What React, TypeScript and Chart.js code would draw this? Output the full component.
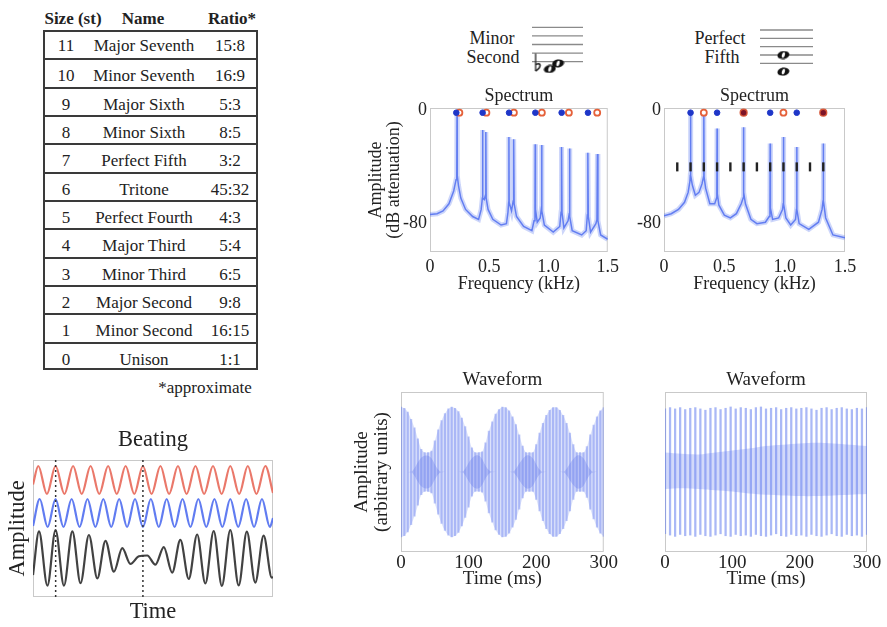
import React, { useEffect, useRef } from 'react';
import { Chart, registerables } from 'chart.js';
Chart.register(...registerables);

const SERIF = '"Liberation Serif", "Times New Roman", serif';
const INK = '#222';

// ---------------- Table data ----------------
const intervalSizes = [11, 10, 9, 8, 7, 6, 5, 4, 3, 2, 1, 0];
const intervalNames = ['Major Seventh', 'Minor Seventh', 'Major Sixth', 'Minor Sixth', 'Perfect Fifth', 'Tritone', 'Perfect Fourth', 'Major Third', 'Minor Third', 'Major Second', 'Minor Second', 'Unison'];
const intervalRatios = ['15:8', '16:9', '5:3', '8:5', '3:2', '45:32', '4:3', '5:4', '6:5', '9:8', '16:15', '1:1'];

// ---------------- Notation data (staff steps, bottom line = 0) ----------------
const staffLineSteps = [0, 2, 4, 6, 8];
const minorSecondNotes = [{ x: 3.5, step: -1.7 }, { x: 5.1, step: -0.4 }];
const minorSecondFlats = [{ x: 1.2, step: -0.2 }];
const perfectFifthNotes = [{ x: 4.4, step: 2 }, { x: 4.4, step: -2 }];

// ---------------- Spectrum data (kHz, dB) ----------------
const spec1Points: [number, number][] = [
  [0, -73.5], [0.06, -73], [0.11, -71], [0.16, -66], [0.2, -57], [0.22, -49], [0.226, -46], [0.228, 0], [0.23, -46], [0.24, -53], [0.26, -62], [0.3, -70], [0.36, -75], [0.41, -77],
  [0.432, -70], [0.442, -62], [0.444, -14], [0.446, -62], [0.458, -63], [0.468, -60], [0.471, -15.5], [0.474, -62], [0.49, -70], [0.53, -77], [0.6, -81], [0.645, -80],
  [0.658, -72], [0.664, -65], [0.666, -19], [0.668, -65], [0.688, -71], [0.702, -64], [0.706, -20.5], [0.71, -66], [0.73, -75], [0.79, -82], [0.86, -85],
  [0.878, -78], [0.886, -69], [0.888, -24], [0.89, -70], [0.905, -79], [0.93, -76], [0.939, -70], [0.942, -24.5], [0.945, -71], [0.965, -81], [1.04, -86],
  [1.095, -82], [1.106, -72], [1.11, -26], [1.114, -72], [1.13, -83], [1.165, -78], [1.173, -74], [1.177, -27], [1.181, -75], [1.2, -85], [1.28, -88],
  [1.318, -85], [1.328, -74], [1.332, -30], [1.336, -75], [1.355, -86], [1.4, -80], [1.409, -77], [1.413, -31], [1.417, -78], [1.44, -88], [1.5, -91],
];
const spec1LowNote = [0.222, 0.444, 0.667, 0.889, 1.111, 1.333];
const spec1HighNote = [0.248, 0.476, 0.708, 0.944, 1.172, 1.411];

const spec2Points: [number, number][] = [
  [0, -74.5], [0.06, -73], [0.12, -70], [0.17, -65], [0.2, -58], [0.215, -50], [0.218, -46], [0.22, -2], [0.222, -46], [0.235, -53], [0.26, -60], [0.29, -58], [0.315, -52],
  [0.328, -47], [0.33, -1], [0.332, -47], [0.345, -55], [0.38, -66], [0.42, -66], [0.436, -62], [0.438, -59], [0.44, -13], [0.442, -59], [0.455, -67], [0.5, -74],
  [0.55, -76], [0.6, -73], [0.64, -66], [0.656, -62], [0.658, -58], [0.66, -12], [0.662, -58], [0.675, -66], [0.72, -77], [0.77, -80], [0.84, -79], [0.872, -75],
  [0.878, -69], [0.88, -23.5], [0.882, -69], [0.9, -77], [0.95, -76], [0.982, -70], [0.988, -66], [0.99, -19], [0.992, -66], [1.01, -76], [1.05, -81], [1.09, -77],
  [1.098, -70], [1.1, -26], [1.102, -70], [1.12, -80], [1.2, -84], [1.28, -79], [1.31, -70], [1.318, -64], [1.32, -23.5], [1.322, -64], [1.34, -76], [1.4, -88], [1.5, -90],
];
const spec2LowOnly = [0.22, 0.44, 0.88, 1.1];
const spec2HighOnly = [0.33, 0.99];
const spec2Shared = [0.66, 1.32];
const spec2Subharmonics = [0.11, 0.22, 0.33, 0.44, 0.55, 0.66, 0.77, 0.88, 0.99, 1.1, 1.21, 1.32];
const markerDb = -1.8;
const subharmonicDb = -40;

// ---------------- Waveform data ----------------
const wf1StepMs = 5;
const wf1Env = [1.0, 0.98, 0.92, 0.81, 0.68, 0.51, 0.35, 0.3, 0.3, 0.32, 0.48, 0.65, 0.79, 0.9, 0.97, 1.0, 0.98, 0.93, 0.83, 0.7, 0.54, 0.37, 0.3, 0.3, 0.31, 0.45, 0.63, 0.77, 0.89, 0.96, 1.0, 0.99, 0.94, 0.85, 0.73, 0.57, 0.4, 0.3, 0.3, 0.3, 0.42, 0.6, 0.75, 0.87, 0.95, 0.99, 0.99, 0.95, 0.87, 0.75, 0.6, 0.42, 0.3, 0.3, 0.3, 0.39, 0.57, 0.72, 0.85, 0.94, 0.99];
const wf1Core = [0, 0, 0, 0, 0.06, 0.15, 0.22, 0.25, 0.25, 0.21, 0.12, 0.04, 0, 0, 0, 0, 0, 0, 0, 0.05, 0.14, 0.21, 0.25, 0.25, 0.2, 0.1, 0.03, 0, 0, 0, 0, 0, 0, 0, 0.05, 0.13, 0.2, 0.25, 0.25, 0.21, 0.12, 0.04, 0, 0, 0, 0, 0, 0, 0, 0.05, 0.13, 0.2, 0.25, 0.25, 0.21, 0.12, 0.04, 0, 0, 0, 0];

const wf2StepMs = 7.5;
const wf2Peak = [0.97, 0.99, 0.97, 0.99, 0.96, 0.98, 0.99, 0.97, 0.95, 0.98, 0.99, 0.96, 0.98, 1.0, 0.97, 0.99, 0.98, 0.96, 0.99, 1.0, 0.97, 0.98, 0.99, 0.96, 0.98, 0.99, 0.97, 0.98, 0.99, 0.97, 0.95, 0.98, 0.99, 0.96, 0.98, 0.99, 0.97, 0.96, 0.98, 0.97, 0.99];
const wf2Trough = [-0.95, -0.97, -0.99, -0.96, -0.98, -0.97, -0.99, -0.96, -0.98, -0.99, -0.97, -0.95, -0.98, -0.99, -0.96, -0.98, -0.97, -0.99, -0.96, -0.98, -0.99, -0.97, -0.95, -0.98, -0.99, -0.96, -0.98, -0.97, -0.99, -0.96, -0.98, -0.99, -0.97, -0.95, -0.98, -0.99, -0.96, -0.98, -0.97, -0.99, -0.96];
const wf2BandStepMs = 25;
const wf2BandTop = [0.3, 0.28, 0.27, 0.3, 0.33, 0.36, 0.4, 0.42, 0.44, 0.45, 0.44, 0.42, 0.4];
const wf2BandBottom = [-0.26, -0.25, -0.26, -0.28, -0.3, -0.33, -0.35, -0.36, -0.37, -0.37, -0.36, -0.35, -0.34];

// ---------------- Beating data (time 0-100, stacked amplitude units) ----------------
const redWave: [number, number][] = [[0, 112.5], [2.2, 131], [5.8, 103], [9.4, 131], [13.1, 103], [16.7, 131], [20.3, 103], [24.0, 131], [27.6, 103], [31.3, 131], [34.9, 103], [38.6, 131], [42.2, 103], [45.8, 131], [49.4, 103], [53.1, 131], [56.7, 103], [60.4, 131], [64.0, 103], [67.7, 131], [71.3, 103], [75.0, 131], [78.6, 103], [82.2, 131], [85.9, 103], [89.5, 131], [93.1, 103], [96.8, 131], [100, 104]];
const blueWave: [number, number][] = [[0, 71], [2.8, 98], [6.1, 70], [9.4, 98], [12.7, 70], [16.1, 98], [19.4, 70], [22.7, 98], [26.0, 70], [29.3, 98], [32.6, 70], [35.9, 98], [39.2, 70], [42.5, 98], [45.8, 70], [49.1, 98], [52.4, 70], [55.7, 98], [59.0, 70], [62.3, 98], [65.6, 70], [68.9, 98], [72.2, 70], [75.6, 98], [78.9, 70], [82.2, 98], [85.5, 70], [88.8, 98], [92.1, 70], [95.4, 98], [98.7, 70], [100, 79]];
const sumWave: [number, number][] = [[0, 22], [2.5, 65.7], [6.0, 11.3], [9.4, 67], [12.9, 11.3], [16.4, 65.7], [19.8, 13.8], [23.3, 62], [26.8, 18.6], [30.2, 56.2], [33.7, 25.3], [37.2, 48.8], [40.6, 33.1], [44.1, 40.7], [47.6, 41.5], [51.0, 32.3], [54.5, 49.8], [58.0, 24.4], [61.4, 57.1], [64.9, 18], [68.4, 62.5], [71.8, 13.5], [75.3, 66], [78.7, 11.2], [82.2, 67], [85.7, 11.6], [89.1, 65.3], [92.6, 14.4], [96.1, 61.4], [99.5, 19.4], [100, 20]];
const beatMarkers = [9.44, 45.8];

// ---------------- helpers ----------------
const framePlugin = {
  id: 'frame',
  beforeDatasetsDraw(chart: any, _args: any, opts: any) {
    if (!opts || !opts.show) return;
    const { ctx, chartArea: a } = chart;
    ctx.save();
    ctx.strokeStyle = opts.color || '#c9c9c9';
    ctx.lineWidth = 1;
    ctx.strokeRect(a.left + 0.5, a.top + 0.5, a.right - a.left - 1, a.bottom - a.top - 1);
    ctx.restore();
  },
};
Chart.register(framePlugin as any);

const fnt = (size: number, lineHeight = 1, weight: any = 'normal') => ({ family: SERIF, size, lineHeight, weight });

function ChartBox({ left, top, width, height, make }: any) {
  const ref = useRef<HTMLCanvasElement>(null);
  useEffect(() => {
    const chart = new Chart(ref.current as HTMLCanvasElement, make());
    return () => chart.destroy();
  }, []);
  return (
    <div style={{ position: 'absolute', left, top, width, height }}>
      <canvas ref={ref} width={width} height={height} style={{ width, height, display: 'block' }} />
    </div>
  );
}

const baseOptions = (extra: any) => ({
  responsive: false,
  animation: false,
  devicePixelRatio: 1,
  events: [],
  ...extra,
});

function spectrumConfig(points: [number, number][], withTitle: boolean, yWidth: number, padRight: number, markers: any[]) {
  const pts = points.map(([x, y]) => ({ x, y }));
  return {
    type: 'scatter',
    data: {
      datasets: [
        ...markers,
        {
          data: pts,
          showLine: true,
          borderColor: 'rgba(80,110,240,0.85)',
          borderWidth: 1.5,
          pointRadius: 0,
          order: 9,
        },
        {
          data: pts,
          showLine: true,
          borderColor: 'rgba(90,120,240,0.3)',
          borderWidth: 5,
          pointRadius: 0,
          order: 10,
        },
      ],
    },
    options: baseOptions({
      layout: { padding: { left: 0, right: padRight, top: 0, bottom: 0 }, autoPadding: false },
      plugins: {
        legend: { display: false },
        tooltip: { enabled: false },
        frame: { show: true },
        title: { display: true, text: 'Spectrum', fullSize: false, color: INK, font: fnt(18), padding: { top: 7, bottom: 3 } },
      },
      scales: {
        x: {
          type: 'linear', min: 0, max: 1.5,
          grid: { display: false, drawTicks: false }, border: { display: false },
          ticks: { stepSize: 0.5, color: INK, font: fnt(18), padding: 6, maxRotation: 0 },
          title: { display: true, text: 'Frequency (kHz)', color: INK, font: fnt(18), padding: { top: 0, bottom: 2 } },
          afterFit: (s: any) => { s.height = 43; },
        },
        y: {
          type: 'linear', min: -100, max: 1.5,
          grid: { display: false, drawTicks: false }, border: { display: false },
          ticks: { color: INK, font: fnt(18), padding: 3 },
          afterBuildTicks: (s: any) => { s.ticks = [{ value: -80 }, { value: 0 }]; },
          title: withTitle
            ? { display: true, text: ['Amplitude', '(dB attenuation)'], color: INK, font: fnt(18), padding: { top: 27, bottom: 0 } }
            : { display: false },
          afterFit: (s: any) => { s.width = yWidth; },
        },
      },
    }),
  };
}

const dots = (xs: number[], y: number, fill: string, stroke: string, r = 3, bw = 1.5) => ({
  data: xs.map((x) => ({ x, y })),
  pointRadius: r,
  pointBackgroundColor: fill,
  pointBorderColor: stroke,
  pointBorderWidth: bw,
  clip: false,
  order: 1,
});

function waveformConfig(datasets: any[], withTitle: boolean, yWidth: number, padRight: number) {
  return {
    type: 'bar',
    data: { datasets },
    options: baseOptions({
      layout: { padding: { left: 0, right: padRight, top: 0, bottom: 0 }, autoPadding: false },
      plugins: {
        legend: { display: false },
        tooltip: { enabled: false },
        frame: { show: true },
        title: { display: true, text: 'Waveform', fullSize: false, color: INK, font: fnt(19), padding: { top: 5.5, bottom: 2.5 } },
      },
      scales: {
        x: {
          type: 'linear', min: 0, max: 300, offset: false,
          grid: { display: false, drawTicks: false }, border: { display: false },
          ticks: { stepSize: 100, color: INK, font: fnt(19), padding: 2, maxRotation: 0 },
          title: { display: true, text: 'Time (ms)', color: INK, font: fnt(19), padding: { top: 0, bottom: 11 } },
          afterFit: (s: any) => { s.height = 48; },
        },
        y: {
          type: 'linear', min: -1.23, max: 1.23,
          grid: { display: false, drawTicks: false }, border: { display: false },
          ticks: { display: false },
          title: withTitle
            ? { display: true, text: ['Amplitude', '(arbitrary units)'], color: INK, font: fnt(19, 1.08), padding: { top: 11.4, bottom: 0 } }
            : { display: false },
          afterFit: (s: any) => { s.width = yWidth; },
        },
      },
    }),
  };
}

const bandLine = (pts: { x: number; y: number }[], fill: any, color: string, order: number, tension = 0.3) => ({
  type: 'line',
  data: pts,
  borderWidth: 0,
  pointRadius: 0,
  tension,
  fill,
  backgroundColor: color,
  order,
});

function wf1Datasets() {
  const t = (i: number) => i * wf1StepMs;
  return [
    {
      type: 'bar',
      data: wf1Env.map((e, i) => ({ x: t(i), y: [-e, e] })),
      backgroundColor: 'rgba(100,125,238,0.42)',
      barThickness: 1.5,
      order: 2,
    },
    bandLine(wf1Core.map((c, i) => ({ x: t(i), y: c })), '+1', 'rgba(90,110,230,0.3)', 3, 0.4),
    bandLine(wf1Core.map((c, i) => ({ x: t(i), y: -c })), false, 'rgba(0,0,0,0)', 3, 0.4),
    bandLine(wf1Env.map((e, i) => ({ x: t(i), y: e })), '+1', 'rgba(140,160,242,0.3)', 4),
    bandLine(wf1Env.map((e, i) => ({ x: t(i), y: -e })), false, 'rgba(0,0,0,0)', 4),
  ];
}

function wf2Datasets() {
  const t = (i: number) => i * wf2StepMs;
  const tb = (i: number) => i * wf2BandStepMs;
  return [
    {
      type: 'bar',
      data: wf2Peak.map((p, i) => ({ x: t(i), y: [wf2Trough[i], p] })),
      backgroundColor: 'rgba(100,125,238,0.55)',
      barThickness: 1.6,
      order: 2,
    },
    bandLine(wf2BandTop.map((v, i) => ({ x: tb(i), y: v })), '+1', 'rgba(105,130,238,0.3)', 3),
    bandLine(wf2BandBottom.map((v, i) => ({ x: tb(i), y: v })), false, 'rgba(0,0,0,0)', 3),
  ];
}

function beatingConfig() {
  const wave = (pts: [number, number][], color: string) => ({
    data: pts.map(([x, y]) => ({ x, y })),
    showLine: true,
    borderColor: color,
    borderWidth: 2.2,
    pointRadius: 0,
    cubicInterpolationMode: 'monotone',
    order: 2,
  });
  return {
    type: 'scatter',
    data: {
      datasets: [
        wave(redWave, 'rgba(232,105,90,0.9)'),
        wave(blueWave, 'rgba(80,110,240,0.9)'),
        wave(sumWave, 'rgba(45,45,45,0.9)'),
        ...beatMarkers.map((m) => ({
          data: [{ x: m, y: 0 }, { x: m, y: 137 }],
          showLine: true,
          borderColor: '#333',
          borderWidth: 1.5,
          borderDash: [2, 3],
          pointRadius: 0,
          order: 1,
        })),
      ],
    },
    options: baseOptions({
      layout: { padding: { left: 0, right: 12, top: 0, bottom: 0 }, autoPadding: false },
      plugins: {
        legend: { display: false },
        tooltip: { enabled: false },
        frame: { show: true },
        title: { display: true, text: 'Beating', fullSize: false, color: INK, font: fnt(22.5), padding: { top: 8.75, bottom: 8.75 } },
      },
      scales: {
        x: {
          type: 'linear', min: 0, max: 100,
          grid: { display: false, drawTicks: false }, border: { display: false },
          ticks: { display: false },
          title: { display: true, text: 'Time', color: INK, font: fnt(22.5), padding: { top: 0, bottom: 3.75 } },
          afterFit: (s: any) => { s.height = 30; },
        },
        y: {
          type: 'linear', min: 0, max: 137,
          grid: { display: false, drawTicks: false }, border: { display: false },
          ticks: { display: false },
          title: { display: true, text: 'Amplitude', color: INK, font: fnt(22.5), padding: { top: 6.75, bottom: 0 } },
          afterFit: (s: any) => { s.width = 33; },
        },
      },
    }),
  };
}

function makeNoteImage() {
  const c = document.createElement('canvas');
  c.width = 13;
  c.height = 9;
  const g = c.getContext('2d') as CanvasRenderingContext2D;
  g.fillStyle = '#111';
  g.beginPath();
  g.ellipse(6.5, 4.5, 6, 4, -0.2, 0, Math.PI * 2);
  g.fill();
  g.fillStyle = '#fff';
  g.beginPath();
  g.ellipse(6.5, 4.5, 1.5, 2.8, 0.35, 0, Math.PI * 2);
  g.fill();
  return c;
}

function makeFlatImage() {
  const c = document.createElement('canvas');
  c.width = 9;
  c.height = 19;
  const g = c.getContext('2d') as CanvasRenderingContext2D;
  g.strokeStyle = '#222';
  g.lineWidth = 1.3;
  g.beginPath();
  g.moveTo(2, 0.5);
  g.lineTo(2, 18);
  g.stroke();
  g.lineWidth = 1.6;
  g.beginPath();
  g.moveTo(2, 18);
  g.bezierCurveTo(8, 14, 8, 9, 2, 11.5);
  g.stroke();
  return c;
}

function staffConfig(notes: { x: number; step: number }[], flats: { x: number; step: number }[], yMin: number, yMax: number) {
  const note = makeNoteImage();
  const flat = makeFlatImage();
  return {
    type: 'scatter',
    data: {
      datasets: [
        ...staffLineSteps.map((s) => ({
          data: [{ x: 0, y: s }, { x: 10, y: s }],
          showLine: true,
          borderColor: '#8a8a8a',
          borderWidth: 1.3,
          pointRadius: 0,
          clip: false,
          order: 3,
        })),
        {
          data: notes.map((n) => ({ x: n.x, y: n.step })),
          pointStyle: note,
          pointRadius: 6,
          clip: false,
          order: 1,
        },
        {
          data: flats.map((n) => ({ x: n.x, y: n.step })),
          pointStyle: flat,
          pointRadius: 6,
          clip: false,
          order: 1,
        },
      ],
    },
    options: baseOptions({
      layout: { padding: 0, autoPadding: false },
      plugins: { legend: { display: false }, tooltip: { enabled: false }, title: { display: false } },
      scales: {
        x: { type: 'linear', min: 0, max: 10, display: false },
        y: { type: 'linear', min: yMin, max: yMax, display: false },
      },
    }),
  };
}

const textStyle = (left: number, top: number, size: number, extra: any = {}) => ({
  position: 'absolute' as const,
  left,
  top,
  fontFamily: SERIF,
  fontSize: size,
  lineHeight: `${size}px`,
  color: INK,
  whiteSpace: 'nowrap' as const,
  transform: 'translate(-50%, -50%)',
  ...extra,
});

function IntervalTable() {
  const rowH = 340 / 12;
  return (
    <>
      <div style={textStyle(73, 18, 17, { fontWeight: 'bold' })}>Size (st)</div>
      <div style={textStyle(143, 18, 17, { fontWeight: 'bold' })}>Name</div>
      <div style={textStyle(232, 18, 17, { fontWeight: 'bold' })}>Ratio*</div>
      <div style={{ position: 'absolute', left: 43, top: 30, width: 215, height: 340, boxSizing: 'border-box', border: '2px solid #3a3a3a' }}>
        {intervalSizes.map((s, i) => (
          <div key={s} style={{ position: 'absolute', left: 0, right: 0, top: i * rowH - 2, height: rowH, boxSizing: 'border-box', borderTop: i === 0 ? 'none' : '2px solid #3a3a3a' }}>
            <div style={textStyle(21, rowH / 2 + 1, 17)}>{s}</div>
            <div style={textStyle(99, rowH / 2 + 1, 17)}>{intervalNames[i]}</div>
            <div style={textStyle(185, rowH / 2 + 1, 17)}>{intervalRatios[i]}</div>
          </div>
        ))}
      </div>
      <div style={textStyle(205, 387, 17)}>*approximate</div>
    </>
  );
}

export default function App() {
  return (
    <div style={{ position: 'fixed', left: 0, top: 0, width: 887, height: 627, background: '#fff', overflow: 'hidden' }}>
      <IntervalTable />

      <div style={textStyle(492, 38, 18)}>Minor</div>
      <div style={textStyle(493, 57, 18)}>Second</div>
      <div style={textStyle(720, 38, 18)}>Perfect</div>
      <div style={textStyle(722, 57, 18)}>Fifth</div>

      <ChartBox left={532} top={20} width={51} height={60} make={() => staffConfig(minorSecondNotes, minorSecondFlats, -4.26, 9.7)} />
      <ChartBox left={760} top={20} width={53} height={65} make={() => staffConfig(perfectFifthNotes, [], -5.2, 10.4)} />

      <ChartBox
        left={340} top={80} width={285} height={215}
        make={() => spectrumConfig(spec1Points, true, 90, 15, [
          dots(spec1LowNote, markerDb, '#1e36c8', '#1e36c8', 2.8, 1),
          dots(spec1HighNote, markerDb, '#ffffff', '#e5613a', 3, 1.8),
        ])}
      />
      <ChartBox
        left={620} top={80} width={260} height={215}
        make={() => spectrumConfig(spec2Points, false, 44, 35, [
          dots(spec2LowOnly, markerDb, '#1e36c8', '#1e36c8', 2.8, 1),
          dots(spec2HighOnly, markerDb, '#ffffff', '#e5613a', 3, 1.8),
          dots(spec2Shared, markerDb, '#7d1428', '#d8583a', 3.4, 1.4),
          {
            data: spec2Subharmonics.map((x) => ({ x, y: subharmonicDb })),
            pointStyle: 'line',
            rotation: 90,
            pointRadius: 4.5,
            pointBorderColor: '#222',
            pointBorderWidth: 2.4,
            order: 1,
          },
        ])}
      />

      <ChartBox left={340} top={365} width={280} height={235} make={() => waveformConfig(wf1Datasets(), true, 61, 16)} />
      <ChartBox left={630} top={365} width={257} height={235} make={() => waveformConfig(wf2Datasets(), false, 35, 20)} />

      <ChartBox left={0} top={420} width={285} height={207} make={beatingConfig} />
    </div>
  );
}
